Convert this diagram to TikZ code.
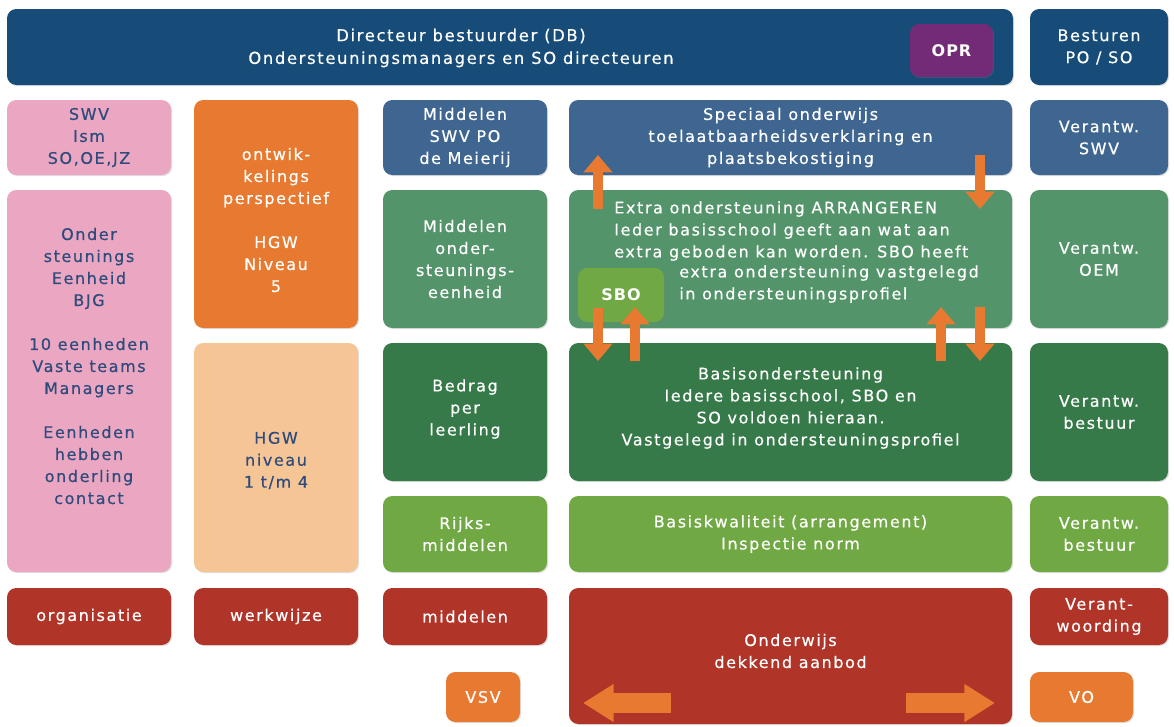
\documentclass[tikz,border=0pt]{standalone}
\usepackage{fontspec}
\setmainfont{DejaVu Sans}[LetterSpace=10,FakeBold=0.5]
\newfontfamily\boldfam{DejaVu Sans Bold}[LetterSpace=6]
\usetikzlibrary{arrows.meta,shadows,calc}
\definecolor{cTop}{HTML}{164C77}
\definecolor{cBlue}{HTML}{3F6690}
\definecolor{cGreen}{HTML}{54946A}
\definecolor{cDark}{HTML}{377A49}
\definecolor{cLight}{HTML}{70A843}
\definecolor{cRed}{HTML}{B03428}
\definecolor{cOrange}{HTML}{E77A30}
\definecolor{cPink}{HTML}{EBA7C1}
\definecolor{cPeach}{HTML}{F5C595}
\definecolor{cPurple}{HTML}{732B77}
\definecolor{cInk}{HTML}{2D4B7C}
\tikzset{
  box/.style={rounded corners=7pt, inner sep=0pt, align=center, text=white,
    font=\fontsize{12}{16.5}\selectfont,
    drop shadow={opacity=0.25, shadow xshift=0.8pt, shadow yshift=-0.8pt}},
  txt/.style={inner sep=0pt, align=center, font=\fontsize{12}{16.5}\selectfont},
  blockarrow/.style={draw=cOrange, line width=7.5pt,
    -{Triangle[length=13pt,width=21pt]}},
  wideblock/.style={draw=cOrange, line width=15pt,
    -{Triangle[length=23pt,width=27pt]}}
}
\newcommand\bx[7]{\node[box,#6, minimum width={0.75pt*(#4-#2)}, minimum height={0.75pt*(#5-#3)}] (#1) at ({(#2+#4)/2},{(#3+#5)/2}) {#7};}
\begin{document}
\begin{tikzpicture}[x=0.75pt,y=-0.75pt]
\useasboundingbox (0,0) rectangle (1174,726);
% top row
\bx{db}{7}{9}{1013}{85}{fill=cTop}{}
\node[txt,text=white,font=\fontsize{12.3}{17}\selectfont] (dbt) at (461,48) {Directeur bestuurder (DB)\\Ondersteuningsmanagers en SO directeuren};
\bx{opr}{910}{24}{993}{77}{fill=cPurple,font=\fontsize{12}{16}\boldfam}{OPR}
\bx{best}{1030}{9}{1168}{85}{fill=cTop}{Besturen\\PO / SO}
% column 1
\bx{swv}{7}{100}{171}{175}{fill=cPink,text=cInk}{SWV\\Ism\\SO,OE,JZ}
\bx{oeb}{7}{190}{171}{572}{fill=cPink}{}
\node[txt,text=cInk] (oebt) at ($(oeb.center)+(0,-15)$) {Onder\\steunings\\Eenheid\\BJG\\[16.5pt]10 eenheden\\Vaste teams\\Managers\\[16.5pt]Eenheden\\hebben\\onderling\\contact};
\bx{org}{7}{588}{171}{645}{fill=cRed}{organisatie}
% column 2
\bx{opp}{194}{100}{358}{328}{fill=cOrange}{}
\node[txt,text=white] (oppt) at ($(opp.center)+(0,6)$) {ontwik-\\kelings\\perspectief\\[16.5pt]HGW\\Niveau\\5};
\bx{hgw}{194}{343}{358}{572}{fill=cPeach}{}
\node[txt,text=cInk] (hgwt) at ($(hgw.center)+(0,3)$) {HGW\\niveau\\1 t/m 4};
\bx{werk}{194}{588}{358}{645}{fill=cRed}{werkwijze}
% column 3
\bx{mswv}{383}{100}{547}{175}{fill=cBlue}{Middelen\\SWV PO\\de Meierij}
\bx{moe}{383}{190}{547}{328}{fill=cGreen}{Middelen\\onder-\\steunings-\\eenheid}
\bx{bpl}{383}{343}{547}{481}{fill=cDark}{}
\node[txt,text=white] (bplt) at ($(bpl.center)+(0,-3)$) {Bedrag\\per\\leerling};
\bx{rijk}{383}{496}{547}{572}{fill=cLight}{Rijks-\\middelen}
\bx{mid}{383}{588}{547}{645}{fill=cRed}{middelen}
\bx{vsv}{446}{672}{520}{722}{fill=cOrange}{VSV}
% column 4
\bx{so}{569}{100}{1012}{175}{fill=cBlue}{Speciaal onderwijs\\toelaatbaarheidsverklaring en\\plaatsbekostiging}
\bx{extra}{569}{190}{1012}{328}{fill=cGreen}{}
\node[txt,text=white,align=left,anchor=north west] (ext1) at (614,201) {Extra ondersteuning ARRANGEREN\\Ieder basisschool geeft aan wat aan\\extra geboden kan worden. SBO heeft};
\node[txt,text=white,align=left,anchor=north west] (ext2) at (679,265) {extra ondersteuning vastgelegd\\in ondersteuningsprofiel};
\bx{sbo}{578}{268}{664}{322}{fill=cLight,font=\fontsize{12}{16}\boldfam}{SBO}
\bx{basis}{569}{343}{1012}{481}{fill=cDark}{}
\node[txt,text=white] (basist) at ($(basis.center)+(0,-4)$) {Basisondersteuning\\Iedere basisschool, SBO en\\SO voldoen hieraan.\\Vastgelegd in ondersteuningsprofiel};
\bx{bk}{569}{496}{1012}{572}{fill=cLight}{Basiskwaliteit (arrangement)\\Inspectie norm}
\bx{ond}{569}{588}{1012}{724}{fill=cRed}{}
\node[txt,text=white] (ondt) at ($(ond.center)+(0,-5)$) {Onderwijs\\dekkend aanbod};
% column 5
\bx{vswv}{1030}{100}{1168}{175}{fill=cBlue}{Verantw.\\SWV}
\bx{voem}{1030}{190}{1168}{328}{fill=cGreen}{Verantw.\\OEM}
\bx{vb1}{1030}{343}{1168}{481}{fill=cDark}{Verantw.\\bestuur}
\bx{vb2}{1030}{496}{1168}{572}{fill=cLight}{Verantw.\\bestuur}
\bx{vant}{1030}{588}{1168}{645}{fill=cRed}{Verant-\\woording}
\bx{vo}{1030}{672}{1133}{722}{fill=cOrange}{VO}
% arrows
\coordinate (a1s) at (598,209); \coordinate (a1e) at (598,155);
\coordinate (a2s) at (980,155); \coordinate (a2e) at (980,209);
\coordinate (a3s) at (598,308); \coordinate (a3e) at (598,361);
\coordinate (a4s) at (635,361); \coordinate (a4e) at (635,307);
\coordinate (a5s) at (941,361); \coordinate (a5e) at (941,307);
\coordinate (a6s) at (980,307); \coordinate (a6e) at (980,361);
\coordinate (a7s) at (671,703); \coordinate (a7e) at (583,703);
\coordinate (a8s) at (906,703); \coordinate (a8e) at (995,703);
\draw[blockarrow] (a1s) -- (a1e);
\draw[blockarrow] (a2s) -- (a2e);
\draw[blockarrow] (a3s) -- (a3e);
\draw[blockarrow] (a4s) -- (a4e);
\draw[blockarrow] (a5s) -- (a5e);
\draw[blockarrow] (a6s) -- (a6e);
\draw[wideblock] (a7s) -- (a7e);
\draw[wideblock] (a8s) -- (a8e);
\end{tikzpicture}
\end{document}
